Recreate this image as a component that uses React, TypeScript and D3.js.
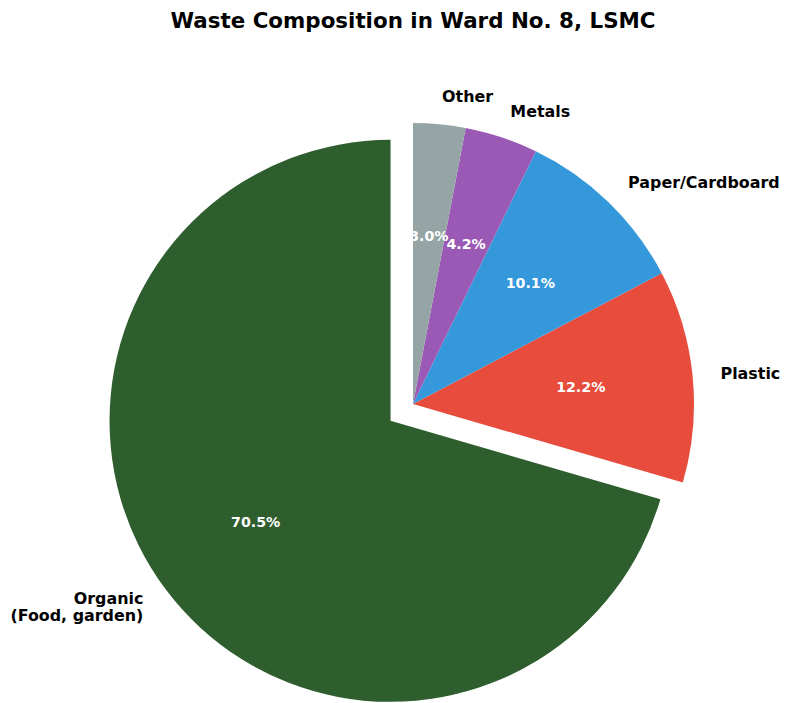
import React from "react";
import * as d3 from "d3";

const categories = ["Organic\n(Food, garden)", "Plastic", "Paper/Cardboard", "Metals", "Other"];
const values = [70.5, 12.2, 10.1, 4.2, 3.0];
const colors = ["#2e5e2e", "#e74c3c", "#3498db", "#9b59b6", "#95a5a6"];
const explode = [0.1, 0, 0, 0, 0];
const title = "Waste Composition in Ward No. 8, LSMC";

const W = 786;
const H = 703;
const cx = 413;
const cy = 404;
const R = 281;
const FONT = "'DejaVu Sans', sans-serif";

export default function App() {
  const data = categories.map((c, i) => ({ label: c, value: values[i], color: colors[i], explode: explode[i] }));
  const pie = d3
    .pie<any>()
    .value((d) => d.value)
    .sort(null)
    .startAngle(0)
    .endAngle(-2 * Math.PI);
  const arcs = pie(data);
  const arc = d3.arc<any>().innerRadius(0).outerRadius(R);
  const total = d3.sum(values);

  return (
    <svg width={W} height={H} style={{ position: "absolute", left: 0, top: 0 }}>
      <rect width={W} height={H} fill="#ffffff" />
      <text x={413} y={20} textAnchor="middle" dominantBaseline="central" fontFamily={FONT} fontWeight="bold" fontSize={21.4}>
        {title}
      </text>
      {arcs.map((a, i) => {
        const mid = (a.startAngle + a.endAngle) / 2;
        const dx = Math.sin(mid);
        const dy = -Math.cos(mid);
        const ox = cx + a.data.explode * R * dx;
        const oy = cy + a.data.explode * R * dy;
        const lx = ox + 1.1 * R * dx;
        const ly = oy + 1.1 * R * dy;
        const px = ox + 0.6 * R * dx;
        const py = oy + 0.6 * R * dy;
        const lines = a.data.label.split("\n");
        const lh = 16.5;
        const pct = ((a.data.value / total) * 100).toFixed(1) + "%";
        return (
          <g key={i}>
            <path d={arc(a) as string} transform={`translate(${ox},${oy})`} fill={a.data.color} />
            <text
              x={lx}
              y={ly - ((lines.length - 1) * lh) / 2}
              textAnchor={dx > 0 ? "start" : "end"}
              dominantBaseline="central"
              fontFamily={FONT}
              fontWeight="bold"
              fontSize={15.9}
              fill="#000"
            >
              {lines.map((t: string, j: number) => (
                <tspan key={j} x={lx} dy={j === 0 ? 0 : lh}>
                  {t}
                </tspan>
              ))}
            </text>
            <text x={px} y={py} textAnchor="middle" dominantBaseline="central" fontFamily={FONT} fontWeight="bold" fontSize={14.2} fill="#fff">
              {pct}
            </text>
          </g>
        );
      })}
    </svg>
  );
}
